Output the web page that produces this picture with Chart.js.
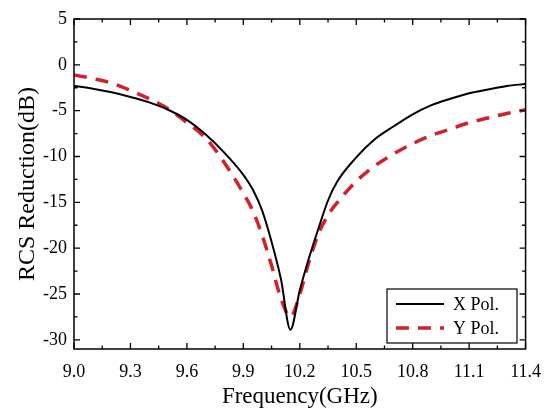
<!DOCTYPE html>
<html>
<head>
<meta charset="utf-8">
<script src="https://cdn.jsdelivr.net/npm/chart.js@4.4.0/dist/chart.umd.min.js"></script>
<style>
  html, body { margin: 0; padding: 0; background: #fff; }
  #wrap { width: 553px; height: 410px; }
</style>
</head>
<body>
<div id="wrap"><canvas id="rcsChart" width="553" height="410"></canvas></div>
<script>
// frequency points (GHz)
const freq = [9.0, 9.1, 9.2, 9.3, 9.4, 9.5, 9.6, 9.7, 9.8, 9.9, 9.95, 10.0, 10.05, 10.1, 10.15,
              10.2, 10.25, 10.3, 10.35, 10.4, 10.5, 10.6, 10.7, 10.8, 10.9, 11.0, 11.1, 11.2, 11.3, 11.4];
// RCS reduction, dB
const xPol = [-2.3, -2.6, -3.0, -3.5, -4.1, -4.9, -6.0, -7.6, -9.6, -12.0, -13.6, -15.9, -19.3, -23.4, -28.9,
              -24.6, -21.0, -17.8, -14.8, -12.7, -10.1, -8.1, -6.7, -5.4, -4.4, -3.7, -3.1, -2.7, -2.3, -2.1];
const yPol = [-1.1, -1.5, -2.0, -2.8, -3.7, -4.8, -6.3, -8.0, -10.7, -14.0, -15.9, -18.6, -21.9, -25.5, -27.5,
              -25.0, -21.4, -18.4, -16.4, -15.0, -12.7, -11.0, -9.7, -8.6, -7.7, -7.0, -6.3, -5.8, -5.3, -4.9];
const seriesNames = ['X Pol.', 'Y Pol.'];

const xTicks = [9.0, 9.3, 9.6, 9.9, 10.2, 10.5, 10.8, 11.1, 11.4];
const yTicks = [5, 0, -5, -10, -15, -20, -25, -30];

const serif = "'Liberation Serif', 'DejaVu Serif', serif";

// box frame, inward ticks and the legend inside the plot
const framePlugin = {
    id: 'frame',
    afterDraw(chart) {
        const ctx = chart.ctx;
        const a = chart.chartArea;
        const xs = chart.scales.x, ys = chart.scales.y;
        ctx.save();
        ctx.strokeStyle = '#000';
        ctx.lineWidth = 1.5;
        ctx.strokeRect(a.left, a.top, a.right - a.left, a.bottom - a.top);

        ctx.lineWidth = 1.3;
        ctx.beginPath();
        for (let i = 0; i < xTicks.length; i++) {
            const px = xs.getPixelForValue(xTicks[i]);
            ctx.moveTo(px, a.bottom); ctx.lineTo(px, a.bottom - 6);
            ctx.moveTo(px, a.top); ctx.lineTo(px, a.top + 6);
            if (i < xTicks.length - 1) {
                const mx = xs.getPixelForValue((xTicks[i] + xTicks[i + 1]) / 2);
                ctx.moveTo(mx, a.bottom); ctx.lineTo(mx, a.bottom - 3.5);
                ctx.moveTo(mx, a.top); ctx.lineTo(mx, a.top + 3.5);
            }
        }
        for (let i = 0; i < yTicks.length; i++) {
            const py = ys.getPixelForValue(yTicks[i]);
            ctx.moveTo(a.left, py); ctx.lineTo(a.left + 6, py);
            ctx.moveTo(a.right, py); ctx.lineTo(a.right - 6, py);
            if (i < yTicks.length - 1) {
                const my = ys.getPixelForValue((yTicks[i] + yTicks[i + 1]) / 2);
                ctx.moveTo(a.left, my); ctx.lineTo(a.left + 3.5, my);
                ctx.moveTo(a.right, my); ctx.lineTo(a.right - 3.5, my);
            }
        }
        ctx.stroke();

        // legend
        const lx = 387, ly = 289, lw = 130, lh = 54;
        ctx.fillStyle = '#fff';
        ctx.fillRect(lx, ly, lw, lh);
        ctx.lineWidth = 1.2;
        ctx.strokeStyle = '#000';
        ctx.strokeRect(lx, ly, lw, lh);
        ctx.font = '18px ' + serif;
        ctx.textBaseline = 'middle';
        chart.data.datasets.forEach((ds, i) => {
            const cy = ly + 15 + i * 24;
            ctx.beginPath();
            ctx.strokeStyle = ds.borderColor;
            ctx.lineWidth = ds.borderWidth;
            ctx.setLineDash(ds.borderDash || []);
            ctx.moveTo(lx + 9, cy);
            ctx.lineTo(lx + 57, cy);
            ctx.stroke();
            ctx.setLineDash([]);
            ctx.fillStyle = '#000';
            ctx.fillText(ds.label, lx + 66, cy + 1);
        });
        ctx.restore();
    }
};

new Chart(document.getElementById('rcsChart'), {
    type: 'line',
    data: {
        datasets: [
            {
                label: seriesNames[0],
                data: freq.map((f, i) => ({ x: f, y: xPol[i] })),
                borderColor: '#000000',
                borderWidth: 2,
                pointRadius: 0,
                cubicInterpolationMode: 'monotone'
            },
            {
                label: seriesNames[1],
                data: freq.map((f, i) => ({ x: f, y: yPol[i] })),
                borderColor: '#d5202a',
                borderWidth: 3.5,
                borderDash: [13, 9],
                pointRadius: 0,
                cubicInterpolationMode: 'monotone'
            }
        ]
    },
    options: {
        responsive: false,
        animation: false,
        layout: { padding: { top: 19, right: 19, left: 0, bottom: 0 } },
        plugins: {
            legend: { display: false },
            tooltip: { enabled: false }
        },
        scales: {
            x: {
                type: 'linear',
                min: 9.0,
                max: 11.4,
                afterBuildTicks: s => { s.ticks = xTicks.map(v => ({ value: v })); },
                afterFit: s => { s.height = 61; },
                grid: { display: false, drawTicks: false },
                border: { display: false },
                ticks: {
                    color: '#000',
                    padding: 12,
                    maxRotation: 0,
                    autoSkip: false,
                    font: { family: serif, size: 18 },
                    callback: v => v.toFixed(1)
                },
                title: {
                    display: true,
                    text: 'Frequency(GHz)',
                    color: '#000',
                    font: { family: serif, size: 23, lineHeight: 1.1 },
                    padding: { top: 0, bottom: 0 }
                }
            },
            y: {
                min: -31,
                max: 5,
                afterBuildTicks: s => { s.ticks = yTicks.map(v => ({ value: v })); },
                afterFit: s => { s.width = 74; },
                grid: { display: false, drawTicks: false },
                border: { display: false },
                ticks: {
                    color: '#000',
                    padding: 7,
                    autoSkip: false,
                    font: { family: serif, size: 18 },
                    callback: v => String(v)
                },
                title: {
                    display: true,
                    text: 'RCS Reduction(dB)',
                    color: '#000',
                    font: { family: serif, size: 24 },
                    padding: { top: 13, bottom: 0 }
                }
            }
        }
    },
    plugins: [framePlugin]
});
</script>
</body>
</html>
